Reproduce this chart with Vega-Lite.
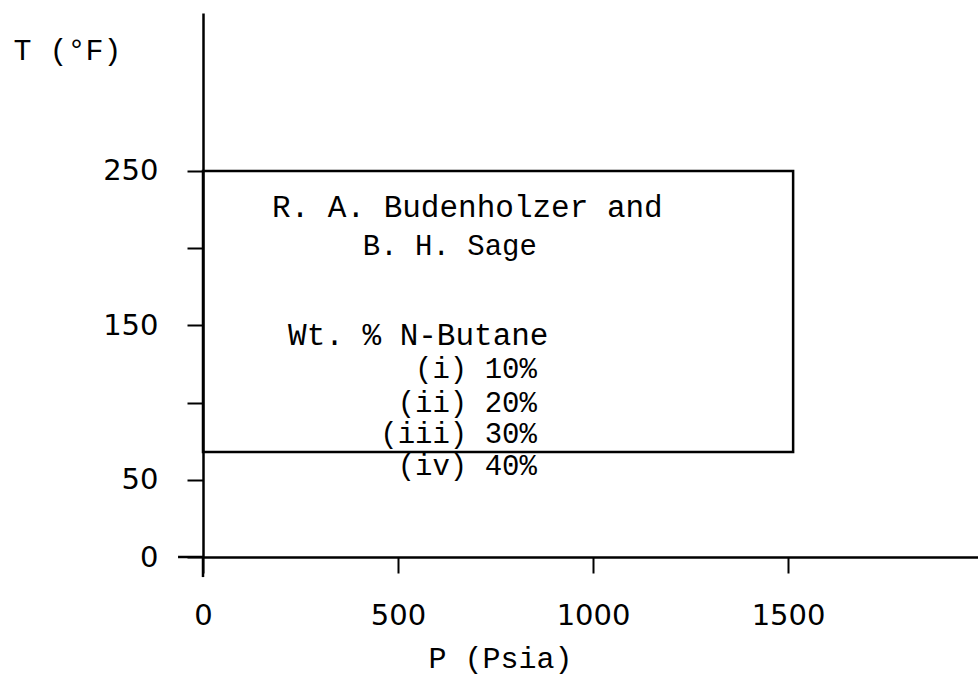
{
  "$schema": "https://vega.github.io/schema/vega-lite/v6.json",
  "width": 775,
  "height": 544,
  "autosize": "none",
  "padding": {"left": 203, "top": 13, "right": 0, "bottom": 122},
  "background": "white",
  "config": {"view": {"stroke": null}},
  "datasets": {
    "box": [{"P0": 0, "P1": 1513, "T0": 68, "T1": 250}],
    "leftnotes": [
      {"P": 177, "T": 220, "label": "R. A. Budenholzer and"},
      {"P": 218, "T": 137.3, "label": "Wt. % N-Butane"}
    ],
    "rightnotes": [
      {"P": 856, "T": 195.6, "label": "B. H. Sage"},
      {"P": 856, "T": 116, "label": "(i) 10%"},
      {"P": 856, "T": 94, "label": "(ii) 20%"},
      {"P": 856, "T": 73.8, "label": "(iii) 30%"},
      {"P": 856, "T": 53.1, "label": "(iv) 40%"}
    ],
    "overshoot": [
      {"P0": -64, "P1": 0, "T0": 0, "T1": 0},
      {"P0": 0, "P1": 0, "T0": -13, "T1": 0}
    ]
  },
  "layer": [
    {
      "data": {"name": "box"},
      "mark": {"type": "rect", "fill": null, "fillOpacity": 0, "stroke": "black", "strokeWidth": 2.5},
      "encoding": {
        "x": {
          "field": "P0", "type": "quantitative",
          "scale": {"domain": [0, 1987], "nice": false, "zero": false},
          "axis": {
            "values": [0, 500, 1000, 1500],
            "format": "d",
            "grid": false,
            "domainColor": "black", "domainWidth": 2.5,
            "tickColor": "black", "tickWidth": 2, "tickSize": 16,
            "labelFont": "DejaVu Sans", "labelFontSize": 29, "labelColor": "black",
            "labelPadding": 28, "labelFlush": false, "labelOverlap": false,
            "title": "P (Psia)",
            "titleFont": "Liberation Mono", "titleFontSize": 30, "titleFontWeight": "normal", "titleColor": "black",
            "titleAnchor": "start", "titleAlign": "center", "titleX": 297, "titleY": 110, "titleBaseline": "alphabetic"
          }
        },
        "x2": {"field": "P1"},
        "y": {
          "field": "T0", "type": "quantitative",
          "scale": {"domain": [0, 352.3], "nice": false, "zero": false},
          "axis": {
            "values": [0, 50, 100, 150, 200, 250],
            "labelExpr": "datum.value == 100 || datum.value == 200 ? '' : datum.label",
            "grid": false,
            "domainColor": "black", "domainWidth": 2.5,
            "tickColor": "black", "tickWidth": 2, "tickSize": 16,
            "labelFont": "DejaVu Sans", "labelFontSize": 29, "labelColor": "black",
            "labelPadding": 29, "labelFlush": false, "labelOverlap": false,
            "title": "T (°F)",
            "titleFont": "Liberation Mono", "titleFontSize": 30, "titleFontWeight": "normal", "titleColor": "black",
            "titleAngle": 0, "titleAlign": "left", "titleBaseline": "alphabetic",
            "titleAnchor": "start", "titleX": -190, "titleY": 46
          }
        },
        "y2": {"field": "T1"}
      }
    },
    {
      "data": {"name": "overshoot"},
      "mark": {"type": "rule", "stroke": "black", "strokeWidth": 2.5},
      "encoding": {
        "x": {"field": "P0", "type": "quantitative"},
        "x2": {"field": "P1"},
        "y": {"field": "T0", "type": "quantitative"},
        "y2": {"field": "T1"}
      }
    },
    {
      "data": {"name": "leftnotes"},
      "mark": {"type": "text", "align": "left", "baseline": "alphabetic", "font": "Liberation Mono", "fontSize": 31, "color": "black"},
      "encoding": {
        "x": {"field": "P", "type": "quantitative"},
        "y": {"field": "T", "type": "quantitative"},
        "text": {"field": "label"}
      }
    },
    {
      "data": {"name": "rightnotes"},
      "mark": {"type": "text", "align": "right", "baseline": "alphabetic", "font": "Liberation Mono", "fontSize": 29, "color": "black"},
      "encoding": {
        "x": {"field": "P", "type": "quantitative"},
        "y": {"field": "T", "type": "quantitative"},
        "text": {"field": "label"}
      }
    }
  ]
}
